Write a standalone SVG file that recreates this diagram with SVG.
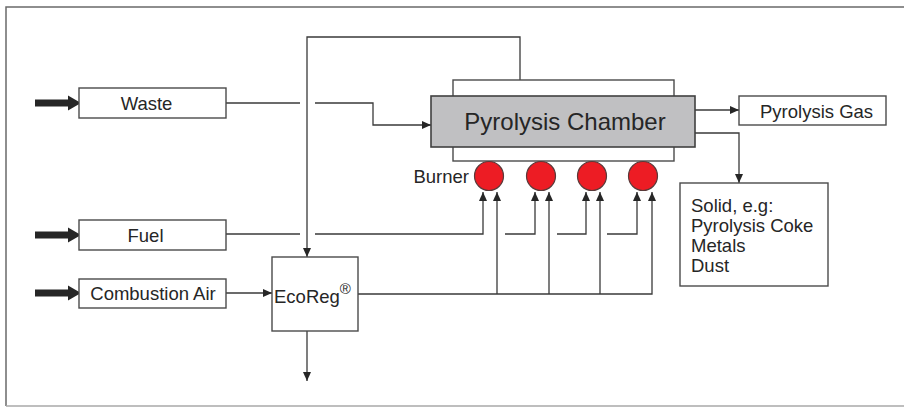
<svg xmlns="http://www.w3.org/2000/svg" xmlns:xlink="http://www.w3.org/1999/xlink" width="904" height="407" viewBox="0 0 904 407">
<style>
  .box{fill:#fff;stroke:#4a4a4a;stroke-width:1.4}
  .gray{fill:#c0c0c2;stroke:#404040;stroke-width:1.6}
  .burner{fill:#ed1c24;stroke:#5a3a3a;stroke-width:1.2}
  .lbl{font-family:"Liberation Sans",Arial,sans-serif;font-size:18.5px;fill:#262626}
  .big{font-family:"Liberation Sans",Arial,sans-serif;font-size:24px;fill:#262626}
  .ln{fill:none;stroke:#3a3a3a;stroke-width:1.3}
  .arr{marker-end:url(#ah)}
  .thick{fill:#262626}
</style>
<defs>
  <marker id="ah" markerUnits="userSpaceOnUse" markerWidth="9" markerHeight="8" viewBox="0 0 9 8" refX="9" refY="4" orient="auto">
    <path d="M0,0 L9,4 L0,8 Z" fill="#262626"/>
  </marker>
  <path id="thickArrow" d="M0,-3.5 H33 V-7.5 L46,0 L33,7.5 V3.5 H0 Z"/>
</defs>
<rect x="0" y="0" width="904" height="407" fill="#fff"/>
<g id="frame">
  <path d="M6,406 V7 H904" fill="none" stroke="#6a6a6a" stroke-width="1.5"/>
  <path d="M6,406 H904" fill="none" stroke="#a8a8a8" stroke-width="1.5"/>
</g>
<g id="connectors">
  <use xlink:href="#thickArrow" class="thick" x="35" y="103"/>
  <use xlink:href="#thickArrow" class="thick" x="35" y="235"/>
  <use xlink:href="#thickArrow" class="thick" x="35" y="293"/>
  <path class="ln" d="M226,103 H300"/>
  <path class="ln arr" d="M315,103 H373 V125 H431"/>
  <path class="ln arr" d="M520,80 V37 H307 V257"/>
  <path class="ln" d="M226,234 H300"/>
  <path class="ln arr" d="M315,234 H483 V192"/>
  <path class="ln arr" d="M505,234 H535 V192"/>
  <path class="ln arr" d="M557,234 H586 V192"/>
  <path class="ln arr" d="M607,234 H637 V192"/>
  <path class="ln arr" d="M226,293 H272"/>
  <path class="ln arr" d="M358,294 H652 V192"/>
  <path class="ln arr" d="M497,294 V192"/>
  <path class="ln arr" d="M549,294 V192"/>
  <path class="ln arr" d="M600,294 V192"/>
  <path class="ln arr" d="M307,331 V381"/>
  <path class="ln arr" d="M695,110 H739"/>
  <path class="ln arr" d="M695,133 H739 V183"/>
</g>
<g id="waste">
  <rect class="box" x="79" y="88" width="147" height="30"/>
  <text class="lbl" x="146.5" y="109.5" text-anchor="middle">Waste</text>
</g>
<g id="fuel">
  <rect class="box" x="79" y="220" width="147" height="30"/>
  <text class="lbl" x="145.5" y="242" text-anchor="middle">Fuel</text>
</g>
<g id="combustion-air">
  <rect class="box" x="79" y="279" width="147" height="29"/>
  <text class="lbl" x="153" y="300" text-anchor="middle">Combustion Air</text>
</g>
<g id="ecoreg">
  <rect class="box" x="272" y="257" width="86" height="74"/>
  <text class="lbl" x="274" y="303">EcoReg<tspan font-size="15" dy="-9">®</tspan></text>
</g>
<g id="pyrolysis-chamber">
  <rect class="box" x="453" y="80" width="221" height="81"/>
  <rect class="gray" x="431" y="96" width="264" height="51"/>
  <text class="big" x="565" y="130" text-anchor="middle">Pyrolysis Chamber</text>
</g>
<g id="burners">
  <text class="lbl" x="469" y="183" text-anchor="end">Burner</text>
  <circle class="burner" cx="489" cy="176" r="14.5"/>
  <circle class="burner" cx="541" cy="176" r="14.5"/>
  <circle class="burner" cx="592" cy="176" r="14.5"/>
  <circle class="burner" cx="643" cy="176" r="14.5"/>
</g>
<g id="pyrolysis-gas">
  <rect class="box" x="739" y="96" width="147" height="29"/>
  <text class="lbl" x="760" y="118">Pyrolysis Gas</text>
</g>
<g id="solid">
  <rect class="box" x="680" y="183" width="148" height="103"/>
  <text class="lbl" x="691" y="212">Solid, e.g:</text>
  <text class="lbl" x="691" y="232">Pyrolysis Coke</text>
  <text class="lbl" x="691" y="252">Metals</text>
  <text class="lbl" x="691" y="272">Dust</text>
</g>
</svg>
